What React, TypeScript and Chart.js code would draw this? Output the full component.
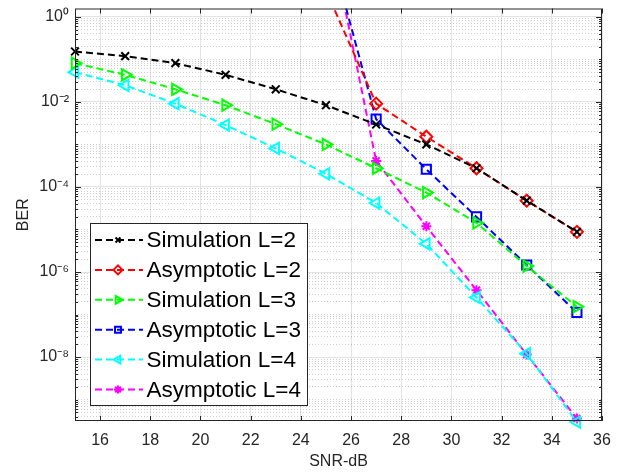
import React, { useEffect, useRef } from 'react';
import { Chart, registerables } from 'chart.js';
import { drawPoint } from 'chart.js/helpers';

Chart.register(...registerables);

// ---------- data ----------
const snr = [15, 17, 19, 21, 23, 25, 27, 29, 31, 33, 35];
const xTickValues = [16, 18, 20, 22, 24, 26, 28, 30, 32, 34, 36];
const yLabelExponents = [0, -2, -4, -6, -8];

const simL2 = [0.153, 0.119, 0.0814, 0.0434, 0.0198, 0.00836, 0.00294, 0.001, 2.75e-4, 4.76e-5, 8.8e-6];
const asymL2 = [null, null, null, null, null, 4.2, 0.0091, 0.00152, 2.75e-4, 4.76e-5, 8.8e-6];
const simL3 = [0.0814, 0.0434, 0.0198, 0.00836, 0.003, 0.001, 2.75e-4, 7.4e-5, 1.43e-5, 1.38e-6, 1.53e-7];
const asymL3 = [null, null, null, null, null, 90, 0.00393, 2.61e-4, 1.97e-5, 1.46e-6, 1.12e-7];
const simL4 = [0.0501, 0.0245, 0.0091, 0.00285, 8.07e-4, 2.04e-4, 4.19e-5, 4.6e-6, 2.52e-7, 1.2e-8, 2.96e-10];
const asymL4 = [null, null, null, null, null, 250, 4.1e-4, 1.19e-5, 3.75e-7, 1.15e-8, 3.6e-10];

const seriesLabels = [
  'Simulation L=2',
  'Asymptotic L=2',
  'Simulation L=3',
  'Asymptotic L=3',
  'Simulation L=4',
  'Asymptotic L=4',
];

const Y_MIN = Math.pow(10, -9.503);
const Y_MAX = Math.pow(10, 0.196);
const FONT = '"Liberation Sans", Arial, Helvetica, sans-serif';

const sup: Record<string, string> = {
  '-': '\u207B', '0': '\u2070', '1': '\u00B9', '2': '\u00B2', '3': '\u00B3',
  '4': '\u2074', '5': '\u2075', '6': '\u2076', '7': '\u2077', '8': '\u2078', '9': '\u2079',
};

function isLabeled(v: number): boolean {
  const l = Math.log10(v);
  const r = Math.round(l);
  return Math.abs(l - r) < 1e-9 && yLabelExponents.includes(r);
}

function toPoints(arr: (number | null)[]) {
  const pts: { x: number; y: number }[] = [];
  arr.forEach((y, i) => {
    if (y !== null) pts.push({ x: snr[i], y });
  });
  return pts;
}

const legendRadius = [3.5, 4.5, 4.5, 4.2, 4.5, 4];

const axesBoxPlugin = {
  id: 'axesBox',
  afterDatasetsDraw(chart: any) {
    const { ctx, chartArea: ca, scales } = chart;
    ctx.save();
    ctx.strokeStyle = '#262626';
    ctx.lineWidth = 1;
    ctx.setLineDash([]);
    ctx.beginPath();
    scales.x.ticks.forEach((t: any) => {
      const px = Math.round(scales.x.getPixelForValue(t.value)) + 0.5;
      ctx.moveTo(px, ca.bottom);
      ctx.lineTo(px, ca.bottom - 5);
      ctx.moveTo(px, ca.top);
      ctx.lineTo(px, ca.top + 5);
    });
    scales.y.ticks.forEach((t: any) => {
      const py = Math.round(scales.y.getPixelForValue(t.value)) + 0.5;
      const len = isLabeled(t.value) ? 6 : 3;
      ctx.moveTo(ca.left, py);
      ctx.lineTo(ca.left + len, py);
      ctx.moveTo(ca.right, py);
      ctx.lineTo(ca.right - len, py);
    });
    ctx.stroke();
    ctx.strokeRect(ca.left + 0.5, ca.top + 0.5, ca.right - ca.left - 1, ca.bottom - ca.top - 1);
    ctx.restore();
  },
};

const legendPlugin = {
  id: 'matlabLegend',
  afterDraw(chart: any) {
    const { ctx, chartArea: ca } = chart;
    const left = Math.round(ca.left + 15) + 0.5;
    const top = Math.round(ca.top + 214) + 0.5;
    const w = 217;
    const h = 182;
    ctx.save();
    ctx.fillStyle = '#ffffff';
    ctx.fillRect(left, top, w, h);
    ctx.strokeStyle = '#262626';
    ctx.lineWidth = 1;
    ctx.setLineDash([]);
    ctx.strokeRect(left, top, w, h);
    chart.data.datasets.forEach((ds: any, i: number) => {
      const y = top + 16.5 + i * 29.9;
      const x0 = left + 4.5;
      const x1 = left + 52.5;
      const xm = left + 27.5;
      ctx.setLineDash([7, 4]);
      ctx.strokeStyle = ds.borderColor;
      ctx.lineWidth = 2;
      ctx.beginPath();
      ctx.moveTo(x0, y);
      ctx.lineTo(x1, y);
      ctx.stroke();
      ctx.setLineDash([]);
      ctx.fillStyle = ds.pointBackgroundColor;
      ctx.strokeStyle = ds.borderColor;
      drawPoint(
        ctx,
        { pointStyle: ds.pointStyle, radius: legendRadius[i], rotation: ds.pointRotation || 0, borderWidth: 2 } as any,
        xm,
        y
      );
      ctx.fillStyle = '#000000';
      ctx.font = `22.5px ${FONT}`;
      ctx.textBaseline = 'middle';
      ctx.textAlign = 'left';
      ctx.fillText(ds.label, left + 56, y + 1);
    });
    ctx.restore();
  },
};

function makeDataset(label: string, data: (number | null)[], color: string, pointStyle: string, radius: number, rotation = 0, filled = false) {
  return {
    label,
    data: toPoints(data),
    borderColor: color,
    backgroundColor: color,
    borderWidth: 2,
    borderDash: [7, 4],
    tension: 0,
    fill: false,
    pointStyle,
    pointRadius: radius,
    pointHoverRadius: radius,
    pointRotation: rotation,
    pointBorderWidth: 2,
    pointBorderColor: color,
    pointBackgroundColor: filled ? color : 'rgba(0,0,0,0)',
    clip: { left: 10, right: 10, top: 0, bottom: 10 },
  };
}

export default function App() {
  const canvasRef = useRef<HTMLCanvasElement | null>(null);

  useEffect(() => {
    document.body.style.margin = '0';
    const canvas = canvasRef.current;
    if (!canvas) return;
    const chart = new Chart(canvas, {
      type: 'line',
      data: {
        datasets: [
          makeDataset(seriesLabels[0], simL2, '#000000', 'crossRot', 5.5),
          makeDataset(seriesLabels[1], asymL2, '#ff0000', 'rectRot', 6),
          makeDataset(seriesLabels[2], simL3, '#00ff00', 'triangle', 6.5, 90),
          makeDataset(seriesLabels[3], asymL3, '#0000ff', 'rect', 6.5),
          makeDataset(seriesLabels[4], simL4, '#00ffff', 'triangle', 6.5, -90),
          makeDataset(seriesLabels[5], asymL4, '#ff00ff', 'star', 5, 0, true),
        ] as any,
      },
      options: {
        animation: false,
        responsive: false,
        devicePixelRatio: 1,
        events: [],
        layout: { padding: { left: 0, right: 25, top: 6, bottom: 0 } },
        plugins: {
          legend: { display: false },
          tooltip: { enabled: false },
        },
        scales: {
          x: {
            type: 'linear',
            min: 15,
            max: 36,
            afterBuildTicks: (scale: any) => {
              scale.ticks = xTickValues.map((v) => ({ value: v }));
            },
            afterFit: (scale: any) => {
              scale.height = 54;
              scale.paddingLeft = 0;
              scale.paddingRight = 0;
            },
            ticks: {
              autoSkip: false,
              maxRotation: 0,
              padding: 10,
              color: '#262626',
              font: { family: FONT, size: 16 },
              callback: (v: any) => String(v),
            },
            grid: { color: '#e3e3e3', lineWidth: 1, drawTicks: false },
            border: { display: false },
            title: {
              display: true,
              text: 'SNR-dB',
              color: '#262626',
              font: { family: FONT, size: 16 },
              padding: { top: 0, bottom: 4 },
            },
          },
          y: {
            type: 'logarithmic',
            min: Y_MIN,
            max: Y_MAX,
            afterBuildTicks: (scale: any) => {
              const t: { value: number }[] = [];
              for (let e = -10; e <= 0; e++) {
                for (let m = 1; m <= 9; m++) {
                  const v = m * Math.pow(10, e);
                  if (v >= Y_MIN && v <= Y_MAX) t.push({ value: v });
                }
              }
              scale.ticks = t;
            },
            afterFit: (scale: any) => {
              scale.width = 75;
              scale.paddingTop = 0;
              scale.paddingBottom = 0;
            },
            ticks: {
              autoSkip: false,
              padding: 6,
              color: '#262626',
              font: { family: FONT, size: 16 },
              callback: (v: any) => {
                const n = Number(v);
                if (!isLabeled(n)) return '';
                const e = String(Math.round(Math.log10(n)));
                return '10' + e.split('').map((c) => sup[c]).join('');
              },
            },
            grid: {
              drawTicks: false,
              lineWidth: 1,
              color: (ctx: any) => (ctx.tick && isLabeled(ctx.tick.value) ? '#e3e3e3' : 'rgba(30,30,30,0.22)'),
            },
            border: {
              display: false,
              dash: (ctx: any) => (ctx.tick && !isLabeled(ctx.tick.value) ? [1, 2] : []),
            },
            title: {
              display: true,
              text: 'BER',
              color: '#262626',
              font: { family: FONT, size: 16 },
              padding: { top: 14, bottom: 0 },
            },
          },
        },
      } as any,
      plugins: [axesBoxPlugin, legendPlugin],
    });
    return () => chart.destroy();
  }, []);

  return (
    <div style={{ width: 627, height: 475 }}>
      <canvas ref={canvasRef} width={627} height={475} style={{ display: 'block' }} />
    </div>
  );
}
